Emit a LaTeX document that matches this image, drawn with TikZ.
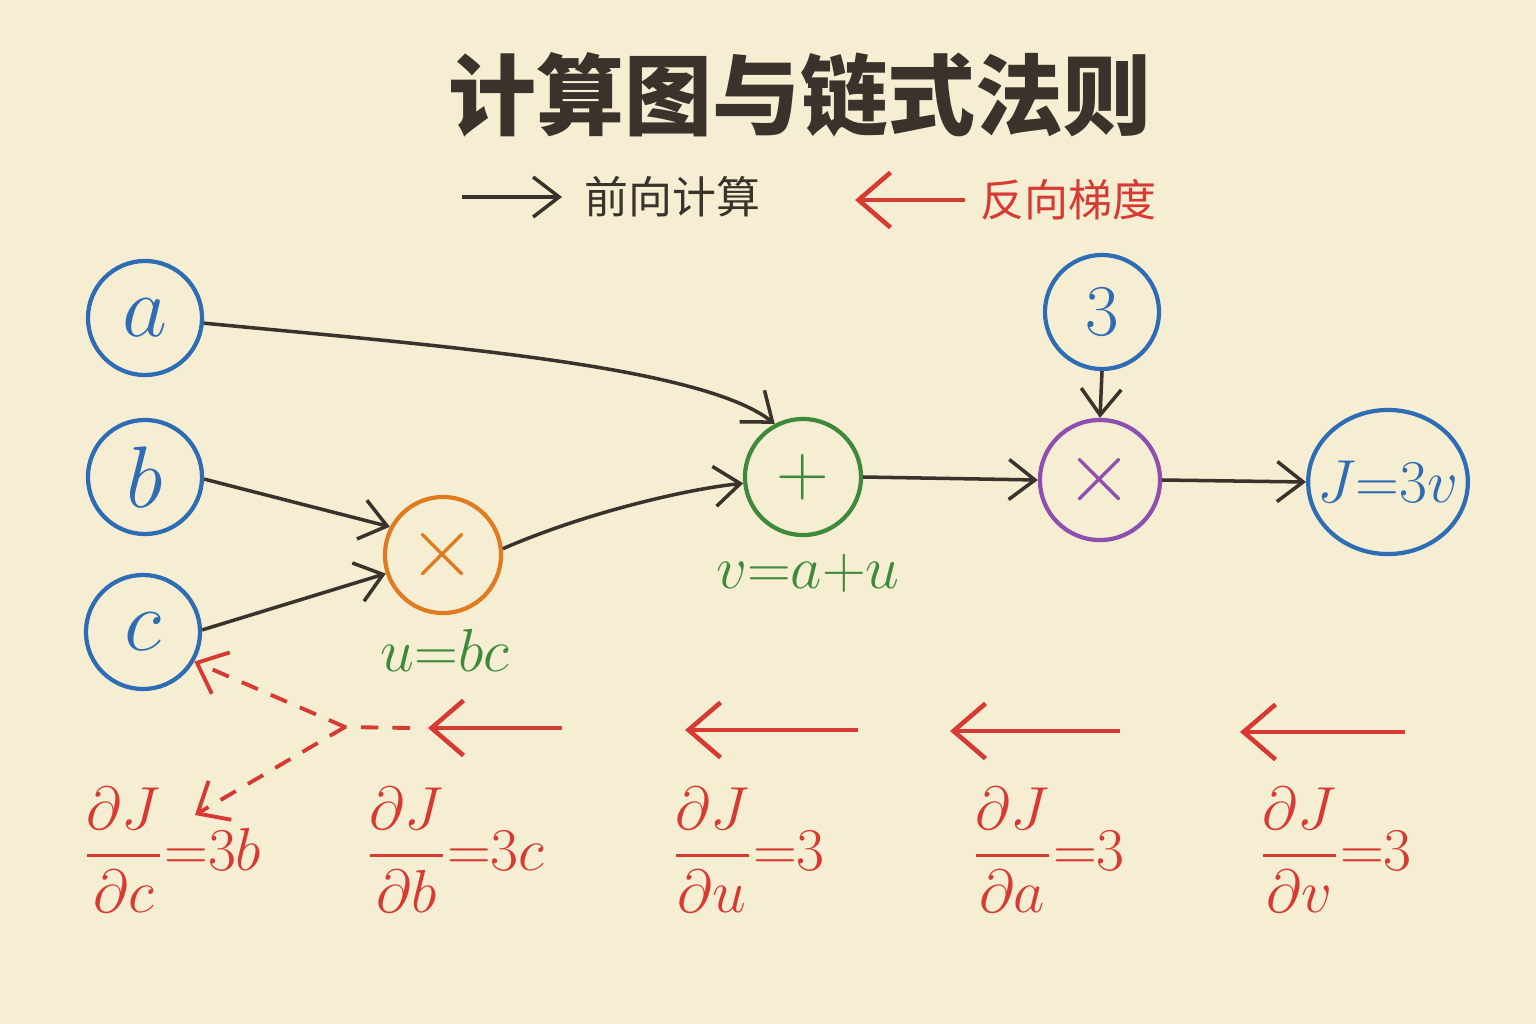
\documentclass[tikz,border=0pt]{standalone}
\usepackage{amsmath}
\usepackage{fontspec}
\newfontfamily\cjk{Noto Sans CJK SC}
\usetikzlibrary{arrows.meta,shapes.geometric}

\definecolor{paper}{RGB}{246,238,210}
\definecolor{ink}{RGB}{58,51,44}
\definecolor{varblue}{RGB}{46,109,180}
\definecolor{oporange}{RGB}{224,123,34}
\definecolor{opgreen}{RGB}{62,138,58}
\definecolor{oppurple}{RGB}{142,79,174}
\definecolor{gradred}{RGB}{214,58,50}

\tikzset{
    varnode/.style={circle, draw=varblue, line width=1.2pt, minimum size=1.14cm, inner sep=0pt,
        text=varblue, font=\fontsize{24}{28}\selectfont},
    opnode/.style={circle, line width=1.2pt, minimum size=1.16cm, inner sep=0pt,
        font=\fontsize{26}{30}\selectfont},
    fwd/.style={draw=ink, line width=1pt, -{Straight Barb[length=2.6mm,width=4mm]}},
    bwd/.style={draw=gradred, line width=1.3pt, -{Straight Barb[length=3.2mm,width=5.5mm]}},
    bwddash/.style={draw=gradred, line width=1.1pt, dashed, dash pattern=on 5pt off 4pt},
    grad/.style={text=gradred, font=\fontsize{17}{20}\selectfont},
    eqlabel/.style={text=opgreen, font=\fontsize{18}{22}\selectfont}
}

\begin{document}
\begin{tikzpicture}[x=0.01cm, y=-0.01cm]
        % Background
        \fill[paper] (0,0) rectangle (1536,1024);
        \useasboundingbox (0,0) rectangle (1536,1024);

        % Title
        \node[text=ink, font=\cjk\bfseries\fontsize{25}{30}\selectfont] (title) at (800,95) {计算图与链式法则};

        % Legend
        \coordinate (fwdA) at (462,197);
        \coordinate (fwdB) at (562,197);
        \draw[fwd] (fwdA) -- (fwdB);
        \node[right, text=ink, font=\cjk\fontsize{12.5}{15}\selectfont] (fwdtext) at (572,197) {前向计算};
        \coordinate (bwdA) at (965,200);
        \coordinate (bwdB) at (855,200);
        \draw[bwd] (bwdA) -- (bwdB);
        \node[right, text=gradred, font=\cjk\fontsize{12.5}{15}\selectfont] (bwdtext) at (968,200) {反向梯度};

        % Input variables
        \node[varnode] (a) at (145,318) {$a$};
        \node[varnode] (b) at (145,477) {$b$};
        \node[varnode] (c) at (143,632) {$c$};
        \node[varnode, font=\fontsize{22}{26}\selectfont] (three) at (1102,312) {$3$};

        % Operations
        \node[opnode, draw=oporange, text=oporange] (mul1) at (443,555) {$\times$};
        \node[opnode, draw=opgreen, text=opgreen, font=\fontsize{22}{26}\selectfont] (plus) at (803,477) {$+$};
        \node[opnode, draw=oppurple, text=oppurple, minimum size=1.2cm] (mul2) at (1100,480) {$\times$};

        % Output
        \node[ellipse, draw=varblue, line width=1.2pt, minimum width=1.56cm, minimum height=1.44cm,
            inner xsep=-4pt, inner ysep=0pt, text=varblue, font=\fontsize{17}{20}\selectfont] (J) at (1388,482) {$J{=}3v$};

        % Intermediate results
        \node[eqlabel] (ulabel) at (445,650) {$u{=}bc$};
        \node[eqlabel] (vlabel) at (808,573) {$v{=}a{+}u$};

        % Forward edges
        \draw[fwd] (a.-5) .. controls (430,345) and (700,365) .. (plus.118);
        \draw[fwd] (b.-2) -- (mul1.152);
        \draw[fwd] (c.2) -- (mul1.-162);
        \draw[fwd] (mul1.6) .. controls (580,515) and (680,490) .. (plus.-174);
        \draw[fwd] (plus.east) -- (mul2.west);
        \draw[fwd] (three.south) -- (mul2.north);
        \draw[fwd] (mul2.east) -- (J.west);

        % Gradient labels
        \node[grad] (gc) at (172,850) {$\dfrac{\partial J}{\partial c}{=}3b$};
        \node[grad] (gb) at (455,850) {$\dfrac{\partial J}{\partial b}{=}3c$};
        \node[grad] (gu) at (748,850) {$\dfrac{\partial J}{\partial u}{=}3$};
        \node[grad] (ga) at (1048,850) {$\dfrac{\partial J}{\partial a}{=}3$};
        \node[grad] (gv) at (1335,850) {$\dfrac{\partial J}{\partial v}{=}3$};

        % Backward arrows
        \coordinate (r1s) at (1405,732);
        \coordinate (r1e) at (1240,732);
        \coordinate (r2s) at (1120,731);
        \coordinate (r2e) at (950,731);
        \coordinate (r3s) at (858,730);
        \coordinate (r3e) at (685,730);
        \coordinate (r4s) at (562,728);
        \coordinate (r4e) at (428,728);
        \draw[bwd] (r1s) -- (r1e);
        \draw[bwd] (r2s) -- (r2e);
        \draw[bwd] (r3s) -- (r3e);
        \draw[bwd] (r4s) -- (r4e);

        % Split of the gradient at the product node
        \coordinate (dashs) at (410,728);
        \coordinate (split) at (345,727);
        \coordinate (gcarrow) at (195,815);
        \draw[bwddash] (dashs) -- (split);
        \draw[bwddash, -{Straight Barb[length=2.6mm,width=4.5mm]}] (split) -- (c.-30);
        \draw[bwddash, -{Straight Barb[length=2.6mm,width=4.5mm]}] (split) -- (gcarrow);
\end{tikzpicture}
\end{document}
